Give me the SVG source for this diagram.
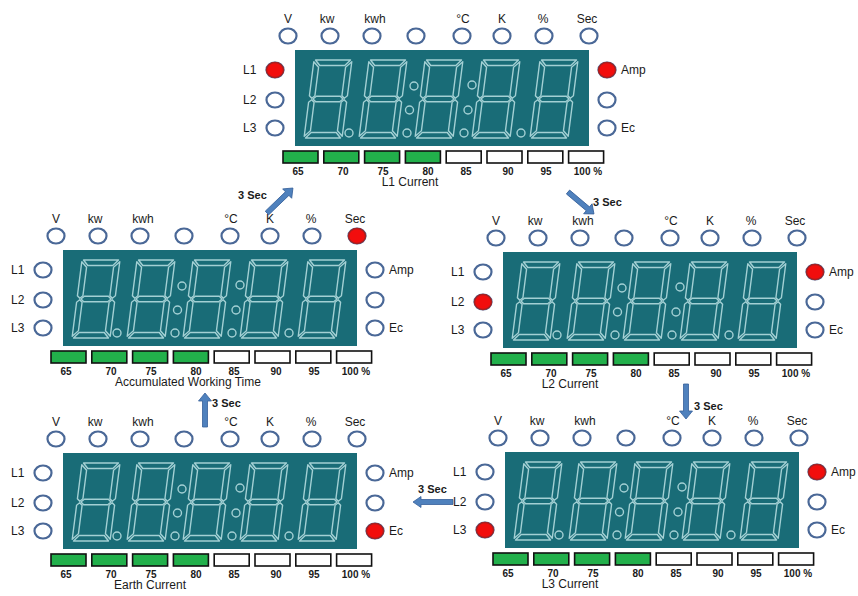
<svg xmlns="http://www.w3.org/2000/svg" xmlns:xlink="http://www.w3.org/1999/xlink" width="858" height="596" viewBox="0 0 858 596">
<defs>
<style>
.seg{fill:none;stroke:#a3d0d4;stroke-width:1.4;stroke-linejoin:round}
.dot{fill:none;stroke:#a3d0d4;stroke-width:1.4}
.lbl{font-family:"Liberation Sans",Arial,sans-serif;font-size:12px;fill:#1a1a1a}
.top{text-anchor:middle}
.num{font-family:"Liberation Sans",Arial,sans-serif;font-size:10px;font-weight:bold;fill:#1a1a1a;text-anchor:middle}
.ttl{font-family:"Liberation Sans",Arial,sans-serif;font-size:12px;fill:#1a1a1a;text-anchor:middle}
.ind{fill:#fff;stroke:#4a6897;stroke-width:2.2}
.on{fill:#f20d0d;stroke:#a82020;stroke-width:1.5}
.bar{stroke:#111;stroke-width:1.6}
.g{fill:#22b04b}
.w{fill:#fff}
.arrow{fill:#4f81bd;stroke:#36609a;stroke-width:0.8}
.sec{font-family:"Liberation Sans",Arial,sans-serif;font-size:11px;font-weight:bold;fill:#1a1a1a}
</style>
<g id="digit">
<polygon class="seg" points="1.5,0 36.5,0 31.5,5.5 6.5,5.5"/>
<polygon class="seg" points="0,1.8 5.5,7.3 5.5,35.8 2.75,38.3 0,35.8"/>
<polygon class="seg" points="38,1.8 32.5,7.3 32.5,35.8 35.25,38.3 38,35.8"/>
<polygon class="seg" points="4,39 7,36.3 31,36.3 34,39 31,41.7 7,41.7"/>
<polygon class="seg" points="0,42.2 2.75,39.7 5.5,42.2 5.5,70.7 0,76.2"/>
<polygon class="seg" points="38,42.2 35.25,39.7 32.5,42.2 32.5,70.7 38,76.2"/>
<polygon class="seg" points="1.5,78 6.5,72.5 31.5,72.5 36.5,78"/>
</g>
<g id="panel">
<rect x="0" y="0" width="294" height="96" fill="#196c77"/>
<use href="#digit" transform="translate(19,10) skewX(-7.3)"/>
<use href="#digit" transform="translate(74,10) skewX(-7.3)"/>
<use href="#digit" transform="translate(130,10) skewX(-7.3)"/>
<use href="#digit" transform="translate(187,10) skewX(-7.3)"/>
<use href="#digit" transform="translate(245,10) skewX(-7.3)"/>
<circle class="dot" cx="54" cy="83" r="4"/>
<circle class="dot" cx="119" cy="36" r="4"/>
<circle class="dot" cx="114.5" cy="60" r="4"/>
<circle class="dot" cx="112" cy="83" r="4"/>
<circle class="dot" cx="177" cy="35" r="4"/>
<circle class="dot" cx="173" cy="60" r="4"/>
<circle class="dot" cx="169" cy="83" r="4"/>
<circle class="dot" cx="226" cy="83" r="4"/>
<ellipse class="ind" cx="-7" cy="-14" rx="8.5" ry="7.5"/>
<ellipse class="ind" cx="35" cy="-14" rx="8.5" ry="7.5"/>
<ellipse class="ind" cx="77" cy="-14" rx="8.5" ry="7.5"/>
<ellipse class="ind" cx="121" cy="-14" rx="8.5" ry="7.5"/>
<ellipse class="ind" cx="167" cy="-14" rx="8.5" ry="7.5"/>
<ellipse class="ind" cx="207" cy="-14" rx="8.5" ry="7.5"/>
<ellipse class="ind" cx="249" cy="-14" rx="8.5" ry="7.5"/>
<ellipse class="ind" cx="294" cy="-14" rx="8.5" ry="7.5"/>
<text class="lbl top" x="-7" y="-27">V</text>
<text class="lbl top" x="32" y="-27">kw</text>
<text class="lbl top" x="80" y="-27">kwh</text>
<text class="lbl top" x="168" y="-27">°C</text>
<text class="lbl top" x="207" y="-27">K</text>
<text class="lbl top" x="248" y="-27">%</text>
<text class="lbl top" x="292" y="-27">Sec</text>
<text class="lbl" x="-52" y="24">L1</text>
<text class="lbl" x="-52" y="54">L2</text>
<text class="lbl" x="-52" y="82">L3</text>
<ellipse class="ind" cx="-20" cy="20" rx="8.5" ry="7.5"/>
<ellipse class="ind" cx="-20" cy="50" rx="8.5" ry="7.5"/>
<ellipse class="ind" cx="-20" cy="78" rx="8.5" ry="7.5"/>
<ellipse class="ind" cx="312" cy="20" rx="8.5" ry="7.5"/>
<ellipse class="ind" cx="312" cy="50" rx="8.5" ry="7.5"/>
<ellipse class="ind" cx="312" cy="78" rx="8.5" ry="7.5"/>
<text class="lbl" x="326" y="24">Amp</text>
<text class="lbl" x="326" y="82">Ec</text>
<rect class="bar g" x="-12" y="101" width="35" height="12"/>
<rect class="bar g" x="28.8" y="101" width="35" height="12"/>
<rect class="bar g" x="69.6" y="101" width="35" height="12"/>
<rect class="bar g" x="110.4" y="101" width="35" height="12"/>
<rect class="bar w" x="151.2" y="101" width="35" height="12"/>
<rect class="bar w" x="192" y="101" width="35" height="12"/>
<rect class="bar w" x="232.8" y="101" width="35" height="12"/>
<rect class="bar w" x="273.6" y="101" width="35" height="12"/>
<text class="num" x="3" y="124.5">65</text>
<text class="num" x="48" y="124.5">70</text>
<text class="num" x="88" y="124.5">75</text>
<text class="num" x="133" y="124.5">80</text>
<text class="num" x="171" y="124.5">85</text>
<text class="num" x="213" y="124.5">90</text>
<text class="num" x="251" y="124.5">95</text>
<text class="num" x="293" y="124.5">100 %</text>
</g>
</defs>
<rect width="858" height="596" fill="#fff"/>

<g id="node-l1-current" transform="translate(295,50)">
<use href="#panel"/>
<ellipse class="on" cx="-20" cy="20" rx="8.5" ry="7.5"/>
<ellipse class="on" cx="312" cy="20" rx="8.5" ry="7.5"/>
<text class="ttl" x="115" y="136">L1 Current</text>
</g>

<g id="node-accumulated-working-time" transform="translate(63,250)">
<use href="#panel"/>
<ellipse class="on" cx="294" cy="-14" rx="8.5" ry="7.5"/>
<text class="ttl" x="125" y="136">Accumulated Working Time</text>
</g>

<g id="node-l2-current" transform="translate(503,252)">
<use href="#panel"/>
<ellipse class="on" cx="-20" cy="50" rx="8.5" ry="7.5"/>
<ellipse class="on" cx="312" cy="20" rx="8.5" ry="7.5"/>
<text class="ttl" x="67" y="136">L2 Current</text>
</g>

<g id="node-earth-current" transform="translate(63,453)">
<use href="#panel"/>
<ellipse class="on" cx="312" cy="78" rx="8.5" ry="7.5"/>
<text class="ttl" x="87" y="136">Earth Current</text>
</g>

<g id="node-l3-current" transform="translate(505,452)">
<use href="#panel"/>
<ellipse class="on" cx="-20" cy="78" rx="8.5" ry="7.5"/>
<ellipse class="on" cx="312" cy="20" rx="8.5" ry="7.5"/>
<text class="ttl" x="65" y="136">L3 Current</text>
</g>

<g id="connectors">
<polygon class="arrow" transform="translate(267,213) rotate(-43.9)" points="0,-2.5 28,-2.5 28,-6.5 36,0 28,6.5 28,2.5 0,2.5"/>
<text class="sec" x="238" y="199">3 Sec</text>
<polygon class="arrow" transform="translate(568,192) rotate(40.2)" points="0,-2.5 26,-2.5 26,-6.5 34,0 26,6.5 26,2.5 0,2.5"/>
<text class="sec" x="593" y="206">3 Sec</text>
<polygon class="arrow" transform="translate(686,384) rotate(90)" points="0,-2.5 27,-2.5 27,-6.5 35,0 27,6.5 27,2.5 0,2.5"/>
<text class="sec" x="694" y="410">3 Sec</text>
<polygon class="arrow" transform="translate(453,502) rotate(180)" points="0,-2.5 32,-2.5 32,-5.5 40,0 32,5.5 32,2.5 0,2.5"/>
<text class="sec" x="418" y="493">3 Sec</text>
<polygon class="arrow" transform="translate(205,427) rotate(-90)" points="0,-2.5 26,-2.5 26,-6.5 34,0 26,6.5 26,2.5 0,2.5"/>
<text class="sec" x="212" y="407">3 Sec</text>
</g>
</svg>
